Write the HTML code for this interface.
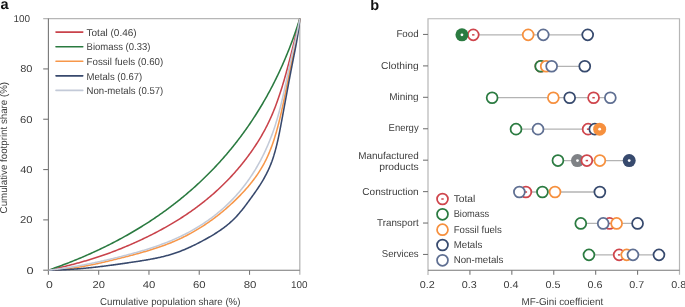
<!DOCTYPE html>
<html><head><meta charset="utf-8"><style>
html,body{margin:0;padding:0;background:#fff;}
body{width:685px;height:307px;overflow:hidden;}
svg{display:block;font-family:"Liberation Sans",sans-serif;text-rendering:geometricPrecision;will-change:transform;}
.t{}
</style></head><body>
<svg width="685" height="307" viewBox="0 0 685 307">
<rect width="685" height="307" fill="#fff"/>
<text x="0.4" y="9.1" font-size="14.5" font-weight="bold" fill="#111">a</text>
<text x="370.3" y="9.85" font-size="14.5" font-weight="bold" fill="#111">b</text>
<path d="M43.20,18.60 H299.80 V274.80" stroke="#b6b6b6" stroke-width="1.3" fill="none"/>
<g stroke="#777777" stroke-width="1.1" fill="none">
<path d="M48.40,18.60 V270.20 H299.80"/>
<path d="M43.20,270.20 H48.40"/>
<path d="M48.40,270.20 V274.80"/>
<path d="M43.20,219.88 H48.40"/>
<path d="M98.68,270.20 V274.80"/>
<path d="M43.20,169.56 H48.40"/>
<path d="M148.96,270.20 V274.80"/>
<path d="M43.20,119.24 H48.40"/>
<path d="M199.24,270.20 V274.80"/>
<path d="M43.20,68.92 H48.40"/>
<path d="M249.52,270.20 V274.80"/>
</g>
<text x="26.55" y="273.65" font-size="10.00" fill="#3d3d3d" textLength="7.10" lengthAdjust="spacingAndGlyphs" class="t">0</text>
<text x="19.95" y="223.33" font-size="10.00" fill="#3d3d3d" textLength="12.45" lengthAdjust="spacingAndGlyphs" class="t">20</text>
<text x="20.15" y="173.01" font-size="10.00" fill="#3d3d3d" textLength="12.40" lengthAdjust="spacingAndGlyphs" class="t">40</text>
<text x="20.05" y="122.69" font-size="10.00" fill="#3d3d3d" textLength="12.50" lengthAdjust="spacingAndGlyphs" class="t">60</text>
<text x="20.15" y="72.37" font-size="10.00" fill="#3d3d3d" textLength="12.25" lengthAdjust="spacingAndGlyphs" class="t">80</text>
<text x="13.45" y="22.05" font-size="10.00" fill="#3d3d3d" textLength="16.60" lengthAdjust="spacingAndGlyphs" class="t">100</text>
<text x="46.05" y="287.80" font-size="10.00" fill="#3d3d3d" textLength="6.80" lengthAdjust="spacingAndGlyphs" class="t">0</text>
<text x="92.55" y="287.80" font-size="10.00" fill="#3d3d3d" textLength="12.40" lengthAdjust="spacingAndGlyphs" class="t">20</text>
<text x="142.75" y="287.80" font-size="10.00" fill="#3d3d3d" textLength="12.60" lengthAdjust="spacingAndGlyphs" class="t">40</text>
<text x="192.95" y="287.80" font-size="10.00" fill="#3d3d3d" textLength="12.60" lengthAdjust="spacingAndGlyphs" class="t">60</text>
<text x="243.70" y="287.80" font-size="10.00" fill="#3d3d3d" textLength="12.75" lengthAdjust="spacingAndGlyphs" class="t">80</text>
<text x="291.05" y="287.80" font-size="10.00" fill="#3d3d3d" textLength="16.50" lengthAdjust="spacingAndGlyphs" class="t">100</text>
<text x="100.05" y="305.20" font-size="10.00" fill="#3d3d3d" textLength="140.40" lengthAdjust="spacingAndGlyphs" class="t">Cumulative population share (%)</text>
<text transform="translate(7.3,213.4) rotate(-90)" font-size="10.00" fill="#3d3d3d" textLength="131.50" lengthAdjust="spacingAndGlyphs">Cumulative footprint share (%)</text>
<path d="M48.40,270.20 L49.23,270.02 L50.05,269.84 L50.88,269.66 L51.71,269.47 L52.53,269.29 L53.35,269.11 L54.18,268.92 L55.00,268.73 L55.82,268.55 L56.64,268.36 L57.46,268.17 L58.27,267.98 L59.09,267.79 L59.91,267.60 L60.72,267.40 L61.53,267.21 L62.35,267.01 L63.16,266.82 L63.97,266.62 L64.78,266.42 L65.59,266.22 L66.40,266.02 L67.20,265.82 L68.01,265.62 L68.81,265.42 L69.62,265.21 L70.42,265.01 L71.22,264.80 L72.02,264.59 L72.82,264.38 L73.62,264.17 L74.41,263.96 L75.21,263.75 L76.00,263.54 L76.80,263.32 L77.59,263.11 L78.38,262.89 L79.17,262.67 L79.96,262.45 L80.75,262.23 L81.53,262.01 L82.32,261.79 L83.10,261.57 L83.88,261.34 L84.67,261.12 L85.45,260.89 L86.22,260.66 L87.00,260.43 L87.78,260.20 L88.55,259.96 L89.33,259.73 L90.10,259.50 L90.87,259.26 L91.64,259.02 L92.41,258.78 L93.18,258.54 L93.94,258.30 L94.71,258.06 L95.47,257.81 L96.23,257.57 L97.76,257.07 L99.27,256.57 L100.78,256.07 L102.28,255.55 L103.78,255.04 L105.27,254.51 L106.76,253.99 L108.24,253.45 L109.72,252.91 L111.19,252.37 L112.66,251.82 L114.12,251.27 L115.58,250.71 L117.03,250.14 L118.47,249.57 L119.92,249.00 L121.35,248.42 L122.78,247.83 L124.21,247.25 L125.63,246.65 L127.05,246.06 L128.47,245.45 L129.87,244.85 L131.28,244.24 L132.68,243.62 L134.07,243.00 L135.47,242.38 L136.85,241.75 L138.24,241.12 L139.62,240.48 L140.99,239.84 L142.36,239.20 L143.73,238.55 L145.09,237.89 L146.45,237.24 L147.81,236.58 L149.16,235.91 L150.51,235.24 L151.85,234.57 L153.18,233.89 L154.52,233.21 L155.85,232.52 L157.17,231.83 L158.49,231.13 L159.81,230.43 L161.12,229.73 L162.42,229.02 L163.72,228.30 L165.02,227.58 L166.31,226.86 L167.60,226.13 L168.88,225.39 L170.15,224.65 L171.43,223.91 L172.69,223.16 L173.95,222.41 L175.21,221.65 L176.46,220.88 L177.71,220.11 L178.95,219.34 L180.18,218.56 L181.41,217.77 L182.64,216.98 L183.86,216.18 L185.07,215.38 L186.28,214.57 L187.48,213.76 L188.68,212.94 L189.87,212.12 L191.06,211.29 L192.24,210.46 L193.42,209.62 L194.59,208.77 L195.75,207.92 L196.91,207.06 L198.07,206.20 L199.22,205.33 L200.36,204.46 L201.50,203.58 L202.63,202.70 L203.75,201.81 L204.87,200.91 L205.99,200.01 L207.10,199.11 L208.20,198.19 L209.30,197.27 L210.39,196.35 L211.48,195.42 L212.56,194.49 L213.63,193.55 L214.70,192.60 L215.77,191.65 L216.82,190.69 L217.88,189.72 L218.92,188.75 L219.96,187.78 L221.00,186.80 L222.02,185.81 L223.05,184.81 L224.06,183.81 L225.07,182.81 L226.08,181.80 L227.08,180.78 L228.07,179.76 L229.06,178.73 L230.04,177.69 L231.01,176.65 L231.98,175.61 L232.95,174.55 L233.90,173.49 L234.85,172.43 L235.80,171.36 L236.74,170.28 L237.67,169.20 L238.60,168.11 L239.52,167.01 L240.43,165.91 L241.34,164.80 L242.24,163.69 L243.14,162.57 L244.03,161.44 L244.91,160.31 L245.79,159.17 L246.66,158.03 L247.53,156.88 L248.39,155.72 L249.24,154.56 L250.09,153.39 L250.93,152.21 L251.76,151.03 L252.59,149.84 L253.41,148.64 L254.22,147.44 L255.03,146.23 L255.83,145.01 L256.62,143.79 L257.40,142.56 L258.18,141.32 L258.95,140.07 L259.71,138.82 L260.47,137.56 L261.22,136.29 L261.96,135.01 L262.69,133.73 L263.41,132.44 L264.13,131.14 L264.83,129.83 L265.53,128.51 L266.22,127.18 L266.90,125.85 L267.57,124.50 L268.24,123.15 L268.89,121.79 L269.54,120.41 L270.17,119.03 L270.80,117.64 L271.42,116.24 L272.02,114.84 L272.62,113.42 L273.21,112.00 L273.80,110.56 L274.37,109.12 L274.94,107.67 L275.50,106.21 L276.05,104.75 L276.60,103.28 L277.13,101.80 L277.66,100.31 L278.19,98.82 L278.70,97.32 L279.21,95.81 L279.72,94.30 L280.22,92.78 L280.46,92.02 L280.71,91.26 L280.95,90.50 L281.20,89.73 L281.44,88.96 L281.68,88.20 L281.92,87.43 L282.15,86.66 L282.39,85.88 L282.63,85.11 L282.86,84.34 L283.09,83.56 L283.32,82.78 L283.55,82.01 L283.78,81.23 L284.01,80.45 L284.24,79.66 L284.46,78.88 L284.69,78.10 L284.91,77.31 L285.14,76.53 L285.36,75.74 L285.58,74.96 L285.80,74.17 L286.02,73.38 L286.24,72.59 L286.45,71.80 L286.67,71.01 L286.88,70.21 L287.10,69.42 L287.31,68.63 L287.53,67.83 L287.74,67.04 L287.95,66.24 L288.16,65.44 L288.38,64.65 L288.59,63.85 L288.79,63.05 L289.00,62.25 L289.21,61.45 L289.42,60.65 L289.63,59.85 L289.83,59.05 L290.04,58.25 L290.25,57.44 L290.45,56.64 L290.66,55.84 L290.86,55.03 L291.07,54.23 L291.27,53.43 L291.47,52.62 L291.68,51.82 L291.88,51.01 L292.08,50.20 L292.28,49.40 L292.49,48.59 L292.69,47.79 L292.89,46.98 L293.09,46.17 L293.29,45.36 L293.49,44.55 L293.69,43.75 L293.89,42.94 L294.09,42.13 L294.29,41.32 L294.49,40.51 L294.68,39.70 L294.88,38.89 L295.08,38.08 L295.28,37.27 L295.48,36.46 L295.67,35.65 L295.87,34.84 L296.07,34.03 L296.27,33.21 L296.46,32.40 L296.66,31.59 L296.86,30.78 L297.05,29.97 L297.25,29.16 L297.45,28.34 L297.64,27.53 L297.84,26.72 L298.03,25.91 L298.23,25.10 L298.43,24.28 L298.62,23.47 L298.82,22.66 L299.02,21.85 L299.21,21.04 L299.41,20.22 L299.60,19.41 L299.80,18.60 L299.80,18.60" fill="none" stroke="#c9434b" stroke-width="1.55" stroke-linejoin="round"/>
<path d="M48.40,270.20 L49.90,269.68 L51.39,269.16 L52.88,268.63 L54.36,268.10 L55.85,267.57 L57.32,267.03 L58.80,266.49 L60.27,265.95 L61.74,265.40 L63.20,264.85 L64.66,264.29 L66.12,263.73 L67.57,263.17 L69.02,262.60 L70.47,262.03 L71.91,261.46 L73.35,260.88 L74.78,260.30 L76.21,259.72 L77.64,259.13 L79.06,258.54 L80.48,257.94 L81.90,257.34 L83.31,256.74 L84.72,256.13 L86.13,255.52 L87.53,254.91 L88.93,254.29 L90.32,253.67 L91.71,253.04 L93.10,252.41 L94.48,251.78 L95.86,251.14 L97.24,250.50 L98.61,249.86 L99.98,249.21 L101.34,248.56 L102.70,247.90 L104.06,247.25 L105.41,246.58 L106.76,245.92 L108.11,245.25 L109.45,244.57 L110.79,243.89 L112.12,243.21 L113.45,242.53 L114.78,241.84 L116.10,241.15 L117.42,240.45 L118.73,239.75 L120.05,239.04 L121.35,238.34 L122.66,237.62 L123.96,236.91 L125.25,236.19 L126.55,235.47 L127.83,234.74 L129.12,234.01 L130.40,233.27 L131.68,232.53 L132.95,231.79 L134.22,231.04 L135.48,230.29 L136.75,229.54 L138.00,228.78 L139.26,228.02 L140.51,227.25 L141.75,226.48 L143.00,225.71 L144.23,224.93 L145.47,224.15 L146.70,223.37 L147.93,222.58 L149.15,221.78 L150.37,220.99 L151.58,220.19 L152.79,219.38 L154.00,218.57 L155.20,217.76 L156.40,216.94 L157.60,216.12 L158.79,215.30 L159.98,214.47 L161.16,213.64 L162.34,212.80 L163.52,211.96 L164.69,211.12 L165.85,210.27 L167.02,209.41 L168.18,208.56 L169.33,207.70 L170.49,206.83 L171.63,205.97 L172.78,205.09 L173.92,204.22 L175.05,203.34 L176.18,202.45 L177.31,201.57 L178.44,200.67 L179.56,199.78 L180.67,198.88 L181.78,197.97 L182.89,197.06 L183.99,196.15 L185.09,195.24 L186.19,194.32 L187.28,193.39 L188.37,192.46 L189.45,191.53 L190.53,190.59 L191.61,189.65 L192.68,188.71 L193.75,187.76 L194.81,186.81 L195.87,185.85 L196.92,184.89 L197.97,183.92 L199.02,182.95 L200.06,181.98 L201.10,181.00 L202.14,180.02 L203.17,179.04 L204.19,178.05 L205.22,177.05 L206.23,176.05 L207.25,175.05 L208.26,174.05 L209.26,173.04 L210.26,172.02 L211.26,171.00 L212.25,169.98 L213.24,168.95 L214.23,167.92 L215.21,166.89 L216.19,165.85 L217.16,164.80 L218.13,163.76 L219.09,162.70 L220.05,161.65 L221.01,160.59 L221.96,159.52 L222.91,158.46 L223.85,157.38 L224.79,156.31 L225.73,155.23 L226.66,154.14 L227.58,153.05 L228.51,151.96 L229.42,150.86 L230.34,149.76 L231.25,148.65 L232.15,147.54 L233.06,146.43 L233.95,145.31 L234.85,144.19 L235.74,143.06 L236.62,141.93 L237.50,140.79 L238.38,139.65 L239.25,138.51 L240.12,137.36 L240.98,136.21 L241.84,135.05 L242.69,133.89 L243.55,132.72 L244.39,131.55 L245.23,130.38 L246.07,129.20 L246.91,128.02 L247.74,126.83 L248.56,125.64 L249.38,124.45 L250.20,123.25 L251.01,122.04 L251.82,120.84 L252.63,119.62 L253.42,118.41 L254.22,117.19 L255.01,115.96 L255.80,114.73 L256.58,113.50 L257.36,112.26 L258.13,111.02 L258.90,109.77 L259.67,108.52 L260.43,107.27 L261.19,106.01 L261.94,104.74 L262.69,103.48 L263.43,102.20 L264.17,100.93 L264.91,99.65 L265.64,98.36 L266.36,97.07 L267.09,95.78 L267.80,94.48 L268.52,93.18 L269.23,91.87 L269.93,90.56 L270.63,89.24 L271.33,87.92 L272.02,86.60 L272.71,85.27 L273.39,83.93 L274.07,82.60 L274.74,81.26 L275.41,79.91 L276.08,78.56 L276.74,77.20 L277.40,75.84 L278.05,74.48 L278.70,73.11 L279.34,71.74 L279.98,70.36 L280.61,68.98 L281.24,67.59 L281.87,66.20 L282.49,64.81 L283.11,63.41 L283.72,62.01 L284.33,60.60 L284.93,59.19 L285.53,57.77 L286.13,56.35 L286.72,54.92 L287.31,53.49 L287.89,52.06 L288.47,50.62 L289.04,49.17 L289.61,47.73 L290.17,46.27 L290.73,44.82 L291.29,43.36 L291.84,41.89 L292.38,40.42 L292.92,38.95 L293.46,37.47 L293.99,35.98 L294.52,34.49 L295.05,33.00 L295.57,31.51 L296.08,30.00 L296.59,28.50 L297.10,26.99 L297.60,25.47 L298.09,23.95 L298.34,23.19 L298.59,22.43 L298.83,21.66 L299.08,20.90 L299.32,20.13 L299.56,19.37 L299.80,18.60 L299.80,18.60" fill="none" stroke="#2a7a40" stroke-width="1.55" stroke-linejoin="round"/>
<path d="M48.40,270.20 L49.37,270.16 L50.33,270.11 L51.29,270.07 L52.25,270.01 L53.20,269.96 L54.15,269.90 L55.09,269.84 L56.03,269.77 L56.97,269.70 L57.91,269.63 L58.84,269.56 L59.77,269.48 L60.69,269.40 L61.62,269.31 L62.54,269.22 L63.45,269.13 L64.37,269.04 L65.28,268.94 L66.18,268.84 L67.09,268.74 L67.99,268.63 L68.89,268.52 L69.79,268.41 L70.68,268.30 L71.57,268.18 L72.46,268.06 L73.34,267.94 L74.23,267.81 L75.11,267.68 L75.99,267.56 L76.86,267.42 L77.73,267.29 L78.61,267.15 L79.47,267.01 L80.34,266.87 L81.20,266.73 L82.07,266.58 L82.93,266.43 L83.78,266.28 L84.64,266.13 L85.49,265.98 L86.34,265.82 L87.19,265.66 L88.04,265.50 L88.89,265.34 L89.73,265.18 L90.57,265.01 L91.41,264.84 L92.25,264.67 L93.09,264.50 L93.92,264.33 L94.76,264.16 L95.59,263.98 L96.42,263.80 L97.25,263.63 L98.08,263.45 L98.90,263.26 L99.73,263.08 L100.55,262.90 L101.38,262.71 L102.20,262.53 L103.02,262.34 L103.84,262.15 L104.66,261.96 L105.47,261.77 L106.29,261.58 L107.11,261.39 L107.92,261.19 L108.73,261.00 L109.55,260.81 L110.36,260.61 L111.17,260.41 L111.98,260.22 L112.79,260.02 L113.60,259.82 L114.41,259.62 L115.21,259.42 L116.02,259.22 L116.83,259.02 L117.64,258.82 L118.44,258.62 L119.25,258.42 L120.05,258.21 L120.86,258.01 L121.67,257.81 L122.47,257.60 L123.27,257.40 L124.08,257.20 L124.88,256.99 L125.68,256.79 L126.49,256.58 L127.29,256.38 L128.09,256.17 L128.89,255.96 L129.69,255.76 L130.49,255.55 L131.29,255.34 L132.09,255.13 L132.88,254.92 L133.68,254.71 L134.47,254.49 L135.27,254.28 L136.06,254.07 L136.86,253.85 L137.65,253.63 L138.44,253.42 L139.23,253.20 L140.02,252.98 L140.80,252.76 L141.59,252.54 L142.37,252.32 L143.16,252.09 L143.94,251.87 L144.72,251.64 L145.50,251.41 L146.28,251.18 L147.06,250.95 L147.84,250.72 L148.61,250.49 L149.38,250.25 L150.15,250.02 L150.92,249.78 L151.69,249.54 L152.46,249.30 L153.23,249.06 L153.99,248.81 L154.75,248.57 L156.27,248.07 L157.78,247.57 L159.29,247.06 L160.78,246.54 L162.27,246.01 L163.75,245.48 L165.23,244.93 L166.69,244.38 L168.14,243.82 L169.59,243.25 L171.03,242.67 L172.45,242.08 L173.87,241.48 L175.28,240.88 L176.68,240.26 L178.07,239.63 L179.45,239.00 L180.82,238.35 L182.18,237.70 L183.54,237.04 L184.88,236.37 L186.22,235.69 L187.55,235.00 L188.87,234.31 L190.18,233.60 L191.48,232.89 L192.77,232.17 L194.06,231.43 L195.34,230.70 L196.61,229.95 L197.87,229.19 L199.12,228.43 L200.36,227.66 L201.60,226.88 L202.83,226.09 L204.05,225.30 L205.26,224.50 L206.47,223.69 L207.67,222.87 L208.86,222.04 L210.04,221.21 L211.22,220.37 L212.38,219.52 L213.54,218.67 L214.70,217.80 L215.84,216.93 L216.98,216.06 L218.12,215.17 L219.24,214.28 L220.36,213.38 L221.47,212.48 L222.57,211.57 L223.67,210.65 L224.76,209.73 L225.85,208.79 L226.93,207.86 L228.00,206.91 L229.06,205.96 L230.12,205.00 L231.17,204.04 L232.22,203.07 L233.26,202.10 L234.30,201.11 L235.32,200.13 L236.35,199.13 L237.36,198.13 L238.37,197.13 L239.37,196.11 L240.37,195.09 L241.36,194.07 L242.34,193.03 L243.32,191.99 L244.28,190.94 L245.24,189.88 L246.19,188.81 L247.13,187.74 L248.06,186.66 L248.99,185.56 L249.90,184.46 L250.80,183.35 L251.70,182.23 L252.58,181.10 L253.46,179.95 L254.32,178.80 L255.17,177.64 L256.01,176.46 L256.85,175.28 L257.66,174.08 L258.47,172.87 L259.27,171.65 L260.05,170.42 L260.82,169.17 L261.58,167.91 L262.32,166.64 L263.05,165.36 L263.77,164.06 L264.48,162.75 L265.17,161.42 L265.84,160.08 L266.50,158.72 L267.15,157.35 L267.78,155.97 L268.40,154.57 L269.01,153.16 L269.60,151.74 L270.18,150.31 L270.75,148.86 L271.31,147.40 L271.85,145.92 L272.38,144.44 L272.91,142.95 L273.42,141.44 L273.92,139.93 L274.16,139.16 L274.41,138.40 L274.65,137.63 L274.89,136.87 L275.13,136.09 L275.36,135.32 L275.59,134.54 L275.82,133.77 L276.05,132.99 L276.28,132.20 L276.50,131.42 L276.72,130.63 L276.94,129.85 L277.16,129.06 L277.38,128.26 L277.59,127.47 L277.81,126.67 L278.02,125.88 L278.23,125.08 L278.43,124.28 L278.64,123.47 L278.84,122.67 L279.04,121.86 L279.24,121.06 L279.44,120.25 L279.64,119.44 L279.84,118.62 L280.03,117.81 L280.23,117.00 L280.42,116.18 L280.61,115.36 L280.80,114.54 L280.99,113.72 L281.18,112.90 L281.36,112.08 L281.55,111.26 L281.73,110.43 L281.91,109.61 L282.10,108.78 L282.28,107.96 L282.46,107.13 L282.64,106.30 L282.81,105.47 L282.99,104.64 L283.17,103.81 L283.34,102.97 L283.52,102.14 L283.69,101.31 L283.87,100.47 L284.04,99.63 L284.21,98.80 L284.38,97.96 L284.55,97.12 L284.72,96.29 L284.89,95.45 L285.06,94.61 L285.23,93.77 L285.40,92.93 L285.57,92.09 L285.74,91.25 L285.91,90.41 L286.07,89.57 L286.24,88.73 L286.41,87.89 L286.57,87.04 L286.74,86.20 L286.91,85.36 L287.07,84.52 L287.24,83.68 L287.41,82.84 L287.57,81.99 L287.74,81.15 L287.90,80.31 L288.07,79.47 L288.24,78.63 L288.41,77.79 L288.57,76.94 L288.74,76.10 L288.91,75.26 L289.08,74.42 L289.24,73.58 L289.41,72.74 L289.58,71.90 L289.75,71.06 L289.92,70.23 L290.09,69.39 L290.26,68.55 L290.43,67.71 L290.61,66.88 L290.78,66.04 L290.95,65.21 L291.13,64.37 L291.30,63.54 L291.48,62.71 L291.65,61.88 L291.83,61.05 L292.01,60.22 L292.19,59.39 L292.37,58.56 L292.55,57.73 L292.73,56.90 L292.91,56.08 L293.09,55.25 L293.28,54.43 L293.46,53.60 L293.64,52.77 L293.83,51.95 L294.01,51.12 L294.19,50.30 L294.37,49.47 L294.55,48.64 L294.74,47.82 L294.92,46.99 L295.10,46.16 L295.27,45.33 L295.45,44.50 L295.63,43.67 L295.80,42.84 L295.98,42.00 L296.15,41.17 L296.32,40.33 L296.49,39.49 L296.66,38.65 L296.83,37.81 L296.99,36.97 L297.15,36.12 L297.31,35.27 L297.47,34.42 L297.63,33.57 L297.78,32.71 L297.93,31.85 L298.08,30.99 L298.22,30.13 L298.36,29.26 L298.50,28.39 L298.64,27.52 L298.77,26.65 L298.90,25.77 L299.03,24.88 L299.15,24.00 L299.27,23.11 L299.38,22.21 L299.49,21.32 L299.60,20.42 L299.70,19.51 L299.80,18.60 L299.80,18.60" fill="none" stroke="#f7974a" stroke-width="1.55" stroke-linejoin="round"/>
<path d="M48.40,270.20 L49.40,270.19 L50.39,270.17 L51.38,270.16 L52.37,270.14 L53.35,270.11 L54.34,270.09 L55.32,270.06 L56.30,270.04 L57.27,270.00 L58.25,269.97 L59.22,269.94 L60.19,269.90 L61.16,269.86 L62.12,269.82 L63.09,269.77 L64.05,269.73 L65.01,269.68 L65.97,269.63 L66.92,269.58 L67.88,269.52 L68.83,269.47 L69.78,269.41 L70.73,269.35 L71.67,269.29 L72.62,269.22 L73.56,269.16 L74.50,269.09 L75.44,269.02 L76.37,268.95 L77.31,268.88 L78.24,268.81 L79.18,268.73 L80.11,268.65 L81.04,268.58 L81.96,268.49 L82.89,268.41 L83.81,268.33 L84.73,268.24 L85.66,268.16 L86.58,268.07 L87.49,267.98 L88.41,267.89 L89.33,267.80 L90.24,267.70 L91.15,267.61 L92.06,267.51 L92.97,267.41 L93.88,267.32 L94.79,267.21 L95.70,267.11 L96.60,267.01 L97.51,266.91 L98.41,266.80 L99.31,266.70 L100.21,266.59 L101.11,266.48 L102.01,266.37 L102.91,266.26 L103.80,266.15 L104.70,266.04 L105.59,265.93 L106.49,265.81 L107.38,265.70 L108.27,265.58 L109.16,265.46 L110.05,265.35 L110.94,265.23 L111.83,265.11 L112.72,264.99 L113.61,264.87 L114.49,264.75 L115.38,264.63 L116.26,264.50 L117.15,264.38 L118.03,264.26 L118.91,264.13 L119.80,264.01 L120.68,263.88 L121.56,263.75 L122.44,263.63 L123.32,263.50 L124.20,263.37 L125.08,263.25 L125.96,263.12 L126.84,262.99 L127.72,262.86 L128.60,262.73 L129.48,262.60 L130.36,262.47 L131.24,262.34 L132.11,262.21 L132.99,262.08 L133.87,261.95 L134.74,261.82 L135.62,261.69 L136.49,261.56 L137.37,261.42 L138.24,261.29 L139.11,261.15 L139.98,261.02 L140.85,260.88 L141.72,260.74 L142.59,260.60 L143.46,260.46 L144.32,260.31 L145.19,260.17 L146.05,260.02 L146.91,259.88 L147.77,259.73 L148.62,259.58 L149.48,259.42 L150.33,259.27 L151.18,259.11 L152.03,258.95 L152.87,258.79 L153.72,258.62 L154.56,258.46 L155.40,258.29 L156.23,258.12 L157.07,257.94 L157.90,257.77 L158.73,257.59 L159.55,257.40 L160.37,257.22 L161.19,257.03 L162.01,256.84 L162.82,256.64 L163.63,256.44 L164.44,256.24 L165.24,256.04 L166.04,255.83 L166.83,255.62 L167.62,255.40 L168.41,255.18 L169.20,254.96 L169.98,254.73 L170.75,254.50 L171.53,254.26 L172.29,254.02 L173.06,253.78 L174.58,253.28 L176.08,252.77 L177.57,252.24 L179.04,251.70 L180.50,251.15 L181.95,250.58 L183.39,250.00 L184.82,249.41 L186.23,248.81 L187.63,248.20 L189.02,247.57 L190.41,246.94 L191.78,246.30 L193.14,245.65 L194.50,244.99 L195.85,244.32 L197.19,243.64 L198.52,242.96 L199.85,242.27 L201.17,241.57 L202.48,240.87 L203.79,240.17 L205.10,239.46 L206.39,238.74 L207.69,238.01 L208.97,237.28 L210.25,236.55 L211.52,235.80 L212.78,235.05 L214.04,234.29 L215.28,233.51 L216.52,232.73 L217.74,231.94 L218.95,231.14 L220.15,230.32 L221.34,229.50 L222.52,228.66 L223.69,227.81 L224.84,226.94 L225.97,226.06 L227.10,225.17 L228.20,224.26 L229.30,223.34 L230.37,222.40 L231.43,221.44 L232.48,220.47 L233.50,219.48 L234.51,218.47 L235.50,217.45 L236.48,216.41 L237.44,215.36 L238.39,214.29 L239.33,213.21 L240.25,212.12 L241.17,211.02 L242.07,209.90 L242.97,208.78 L243.85,207.65 L244.73,206.52 L245.60,205.37 L246.47,204.22 L247.33,203.07 L248.19,201.91 L249.04,200.74 L249.89,199.58 L250.74,198.41 L251.59,197.24 L252.43,196.07 L253.28,194.90 L254.11,193.72 L254.94,192.54 L255.77,191.35 L256.59,190.15 L257.41,188.95 L258.22,187.74 L259.02,186.53 L259.81,185.30 L260.59,184.07 L261.36,182.83 L262.13,181.57 L262.88,180.31 L263.62,179.03 L264.35,177.75 L265.07,176.45 L265.77,175.14 L266.46,173.81 L267.14,172.47 L267.80,171.12 L268.45,169.75 L269.08,168.36 L269.69,166.96 L270.29,165.53 L270.86,164.10 L271.42,162.64 L271.97,161.17 L272.49,159.67 L273.00,158.17 L273.49,156.65 L273.74,155.88 L273.97,155.11 L274.21,154.33 L274.44,153.56 L274.67,152.78 L274.89,151.99 L275.11,151.20 L275.33,150.41 L275.54,149.62 L275.75,148.82 L275.96,148.02 L276.17,147.22 L276.37,146.42 L276.57,145.61 L276.77,144.80 L276.97,143.98 L277.16,143.17 L277.35,142.35 L277.54,141.53 L277.72,140.71 L277.91,139.89 L278.09,139.06 L278.27,138.23 L278.45,137.40 L278.62,136.57 L278.80,135.74 L278.97,134.90 L279.14,134.06 L279.31,133.23 L279.48,132.39 L279.65,131.54 L279.82,130.70 L279.98,129.86 L280.15,129.02 L280.31,128.17 L280.47,127.32 L280.63,126.48 L280.79,125.63 L280.95,124.78 L281.11,123.93 L281.27,123.08 L281.43,122.23 L281.59,121.38 L281.75,120.53 L281.90,119.68 L282.06,118.83 L282.22,117.98 L282.38,117.13 L282.53,116.28 L282.69,115.43 L282.85,114.58 L283.01,113.73 L283.16,112.87 L283.32,112.02 L283.48,111.17 L283.63,110.32 L283.79,109.47 L283.95,108.62 L284.10,107.77 L284.26,106.91 L284.42,106.06 L284.57,105.21 L284.73,104.36 L284.89,103.51 L285.04,102.66 L285.20,101.80 L285.36,100.95 L285.51,100.10 L285.67,99.25 L285.83,98.40 L285.98,97.55 L286.14,96.70 L286.30,95.84 L286.46,94.99 L286.61,94.14 L286.77,93.29 L286.93,92.44 L287.08,91.59 L287.24,90.74 L287.40,89.89 L287.56,89.04 L287.72,88.19 L287.87,87.34 L288.03,86.49 L288.19,85.64 L288.35,84.79 L288.51,83.94 L288.67,83.09 L288.82,82.24 L288.98,81.39 L289.14,80.54 L289.30,79.69 L289.46,78.84 L289.62,78.00 L289.78,77.15 L289.94,76.30 L290.10,75.45 L290.27,74.60 L290.43,73.76 L290.59,72.91 L290.75,72.06 L290.91,71.22 L291.07,70.37 L291.24,69.53 L291.40,68.68 L291.56,67.84 L291.73,66.99 L291.89,66.15 L292.05,65.30 L292.22,64.46 L292.38,63.61 L292.55,62.77 L292.71,61.93 L292.88,61.08 L293.04,60.24 L293.21,59.40 L293.38,58.56 L293.54,57.72 L293.71,56.88 L293.88,56.04 L294.04,55.19 L294.21,54.35 L294.38,53.51 L294.54,52.67 L294.71,51.83 L294.88,50.98 L295.04,50.14 L295.20,49.29 L295.37,48.45 L295.53,47.60 L295.69,46.76 L295.85,45.91 L296.01,45.06 L296.17,44.21 L296.32,43.36 L296.48,42.50 L296.63,41.65 L296.78,40.79 L296.93,39.93 L297.08,39.07 L297.23,38.21 L297.37,37.35 L297.52,36.48 L297.66,35.62 L297.80,34.75 L297.93,33.87 L298.06,33.00 L298.20,32.12 L298.32,31.24 L298.45,30.36 L298.57,29.47 L298.69,28.58 L298.81,27.69 L298.92,26.80 L299.04,25.90 L299.14,25.00 L299.25,24.10 L299.35,23.19 L299.45,22.28 L299.54,21.37 L299.63,20.45 L299.72,19.53 L299.80,18.60 L299.80,18.60" fill="none" stroke="#38496d" stroke-width="1.55" stroke-linejoin="round"/>
<path d="M48.40,270.20 L49.31,270.10 L50.21,270.00 L51.11,269.89 L52.02,269.78 L52.92,269.68 L53.81,269.57 L54.71,269.46 L55.60,269.34 L56.50,269.23 L57.39,269.11 L58.28,268.99 L59.17,268.87 L60.05,268.75 L60.94,268.63 L61.82,268.50 L62.70,268.38 L63.58,268.25 L64.46,268.12 L65.34,267.99 L66.21,267.86 L67.09,267.72 L67.96,267.59 L68.83,267.45 L69.70,267.31 L70.57,267.17 L71.43,267.03 L72.30,266.89 L73.16,266.74 L74.02,266.60 L74.88,266.45 L75.74,266.30 L76.60,266.15 L77.46,266.00 L78.31,265.85 L79.17,265.70 L80.02,265.54 L80.87,265.39 L81.72,265.23 L82.57,265.07 L83.42,264.91 L84.27,264.75 L85.11,264.59 L85.96,264.42 L86.80,264.26 L87.64,264.09 L88.48,263.93 L89.32,263.76 L90.16,263.59 L91.00,263.42 L91.83,263.24 L92.67,263.07 L93.50,262.90 L94.33,262.72 L95.16,262.55 L95.99,262.37 L96.82,262.19 L97.65,262.01 L98.48,261.83 L99.31,261.65 L100.13,261.47 L100.96,261.29 L101.78,261.10 L102.60,260.92 L103.43,260.73 L104.25,260.54 L105.07,260.36 L105.89,260.17 L106.70,259.98 L107.52,259.79 L108.34,259.60 L109.15,259.40 L109.97,259.21 L110.78,259.02 L111.60,258.82 L112.41,258.63 L113.22,258.43 L114.03,258.24 L114.84,258.04 L115.65,257.84 L116.46,257.64 L117.27,257.44 L118.08,257.24 L118.88,257.04 L119.69,256.84 L120.49,256.64 L121.30,256.43 L122.10,256.23 L122.91,256.03 L123.71,255.82 L124.51,255.61 L125.31,255.41 L126.11,255.20 L126.91,254.99 L127.71,254.78 L128.51,254.57 L129.30,254.36 L130.10,254.15 L130.89,253.94 L131.69,253.72 L132.48,253.51 L133.27,253.29 L134.06,253.07 L134.85,252.85 L135.64,252.64 L136.43,252.41 L137.21,252.19 L138.00,251.97 L138.78,251.75 L139.57,251.52 L140.35,251.29 L141.13,251.07 L141.91,250.84 L142.68,250.61 L143.46,250.37 L144.23,250.14 L145.01,249.91 L145.78,249.67 L146.55,249.43 L147.32,249.19 L148.08,248.95 L148.85,248.71 L149.61,248.47 L150.38,248.22 L151.14,247.98 L152.65,247.48 L154.16,246.97 L155.67,246.46 L157.17,245.94 L158.66,245.42 L160.14,244.88 L161.61,244.34 L163.08,243.80 L164.54,243.24 L166.00,242.68 L167.44,242.11 L168.88,241.53 L170.31,240.94 L171.73,240.35 L173.14,239.74 L174.55,239.13 L175.94,238.51 L177.33,237.89 L178.71,237.25 L180.08,236.60 L181.44,235.95 L182.80,235.29 L184.14,234.62 L185.48,233.94 L186.81,233.26 L188.13,232.56 L189.44,231.86 L190.75,231.15 L192.04,230.43 L193.33,229.70 L194.61,228.96 L195.88,228.22 L197.14,227.46 L198.40,226.70 L199.64,225.93 L200.88,225.15 L202.11,224.36 L203.33,223.57 L204.54,222.76 L205.74,221.95 L206.94,221.13 L208.12,220.30 L209.30,219.46 L210.47,218.61 L211.63,217.76 L212.78,216.90 L213.93,216.02 L215.06,215.14 L216.19,214.25 L217.30,213.35 L218.41,212.45 L219.51,211.53 L220.60,210.61 L221.69,209.67 L222.76,208.73 L223.83,207.78 L224.89,206.82 L225.93,205.85 L226.97,204.88 L228.00,203.89 L229.03,202.90 L230.04,201.90 L231.05,200.89 L232.04,199.87 L233.03,198.84 L234.01,197.80 L234.98,196.75 L235.94,195.70 L236.89,194.64 L237.84,193.56 L238.77,192.48 L239.70,191.39 L240.61,190.29 L241.52,189.19 L242.42,188.07 L243.31,186.95 L244.20,185.81 L245.07,184.67 L245.94,183.52 L246.79,182.36 L247.64,181.19 L248.48,180.02 L249.31,178.83 L250.13,177.64 L250.95,176.43 L251.75,175.22 L252.55,174.00 L253.33,172.77 L254.11,171.54 L254.88,170.29 L255.65,169.03 L256.40,167.77 L257.14,166.50 L257.88,165.22 L258.61,163.93 L259.32,162.63 L260.03,161.33 L260.74,160.01 L261.43,158.69 L262.11,157.36 L262.79,156.02 L263.46,154.67 L264.12,153.31 L264.77,151.94 L265.41,150.57 L266.04,149.19 L266.67,147.80 L267.28,146.40 L267.89,144.99 L268.49,143.57 L269.08,142.15 L269.66,140.71 L270.24,139.27 L270.81,137.82 L271.36,136.36 L271.91,134.89 L272.45,133.42 L272.98,131.93 L273.51,130.44 L274.02,128.94 L274.53,127.43 L275.03,125.91 L275.28,125.15 L275.52,124.39 L275.76,123.62 L276.00,122.85 L276.24,122.08 L276.47,121.31 L276.71,120.53 L276.94,119.76 L277.17,118.98 L277.40,118.20 L277.62,117.41 L277.85,116.63 L278.07,115.84 L278.29,115.05 L278.51,114.26 L278.72,113.47 L278.94,112.68 L279.15,111.88 L279.36,111.09 L279.57,110.29 L279.78,109.49 L279.98,108.68 L280.19,107.88 L280.39,107.08 L280.59,106.27 L280.79,105.46 L280.99,104.65 L281.19,103.84 L281.39,103.03 L281.58,102.22 L281.78,101.40 L281.97,100.59 L282.16,99.77 L282.35,98.95 L282.54,98.13 L282.73,97.31 L282.92,96.49 L283.10,95.67 L283.29,94.85 L283.47,94.03 L283.66,93.20 L283.84,92.38 L284.02,91.55 L284.21,90.73 L284.39,89.90 L284.57,89.07 L284.75,88.24 L284.93,87.41 L285.11,86.58 L285.28,85.75 L285.46,84.92 L285.64,84.09 L285.82,83.26 L285.99,82.43 L286.17,81.60 L286.35,80.77 L286.52,79.94 L286.70,79.11 L286.88,78.27 L287.05,77.44 L287.23,76.61 L287.41,75.78 L287.58,74.94 L287.76,74.11 L287.93,73.28 L288.11,72.45 L288.29,71.62 L288.47,70.79 L288.64,69.96 L288.82,69.12 L289.00,68.29 L289.18,67.46 L289.36,66.64 L289.53,65.81 L289.71,64.98 L289.90,64.15 L290.08,63.32 L290.26,62.50 L290.44,61.67 L290.62,60.85 L290.81,60.02 L290.99,59.20 L291.18,58.37 L291.36,57.55 L291.55,56.73 L291.74,55.91 L291.92,55.09 L292.11,54.27 L292.30,53.45 L292.49,52.63 L292.68,51.81 L292.87,50.99 L293.06,50.17 L293.25,49.35 L293.44,48.54 L293.63,47.72 L293.82,46.90 L294.01,46.08 L294.20,45.26 L294.39,44.44 L294.57,43.62 L294.76,42.80 L294.95,41.98 L295.14,41.16 L295.32,40.34 L295.51,39.52 L295.70,38.70 L295.88,37.87 L296.07,37.05 L296.25,36.22 L296.43,35.40 L296.61,34.57 L296.79,33.74 L296.97,32.91 L297.15,32.08 L297.33,31.25 L297.50,30.42 L297.68,29.59 L297.85,28.75 L298.02,27.91 L298.19,27.08 L298.36,26.24 L298.53,25.40 L298.69,24.55 L298.86,23.71 L299.02,22.86 L299.18,22.01 L299.34,21.16 L299.49,20.31 L299.65,19.46 L299.80,18.60 L299.80,18.60" fill="none" stroke="#c3cad8" stroke-width="1.55" stroke-linejoin="round"/>
<path d="M56.0,32.10 H82.8" stroke="#c9434b" stroke-width="1.6" stroke-linecap="round"/>
<text x="86.55" y="35.90" font-size="10.00" fill="#3d3d3d" textLength="50.10" lengthAdjust="spacingAndGlyphs" class="t">Total (0.46)</text>
<path d="M56.0,46.68 H82.8" stroke="#2a7a40" stroke-width="1.6" stroke-linecap="round"/>
<text x="86.55" y="50.48" font-size="10.00" fill="#3d3d3d" textLength="63.90" lengthAdjust="spacingAndGlyphs" class="t">Biomass (0.33)</text>
<path d="M56.0,61.26 H82.8" stroke="#f7974a" stroke-width="1.6" stroke-linecap="round"/>
<text x="86.55" y="65.06" font-size="10.00" fill="#3d3d3d" textLength="76.70" lengthAdjust="spacingAndGlyphs" class="t">Fossil fuels (0.60)</text>
<path d="M56.0,75.84 H82.8" stroke="#38496d" stroke-width="1.6" stroke-linecap="round"/>
<text x="86.55" y="79.64" font-size="10.00" fill="#3d3d3d" textLength="55.70" lengthAdjust="spacingAndGlyphs" class="t">Metals (0.67)</text>
<path d="M56.0,90.42 H82.8" stroke="#c3cad8" stroke-width="1.6" stroke-linecap="round"/>
<text x="86.55" y="94.22" font-size="10.00" fill="#3d3d3d" textLength="76.70" lengthAdjust="spacingAndGlyphs" class="t">Non-metals (0.57)</text>
<path d="M428.00,274.90 V18.75 H679.50 V274.70" stroke="#b6b6b6" stroke-width="1.2" fill="none"/>
<g stroke="#777777" stroke-width="1.1" fill="none">
<path d="M428.00,270.30 H679.50"/>
<path d="M423.00,34.46 H428.00"/>
<path d="M423.00,65.89 H428.00"/>
<path d="M423.00,97.32 H428.00"/>
<path d="M423.00,128.75 H428.00"/>
<path d="M423.00,160.18 H428.00"/>
<path d="M423.00,191.61 H428.00"/>
<path d="M423.00,223.04 H428.00"/>
<path d="M423.00,254.47 H428.00"/>
<path d="M469.92,270.30 V274.70"/>
<path d="M511.83,270.30 V274.70"/>
<path d="M553.75,270.30 V274.70"/>
<path d="M595.67,270.30 V274.70"/>
<path d="M637.58,270.30 V274.70"/>
</g>
<text x="419.80" y="287.70" font-size="10.00" fill="#3d3d3d" textLength="15.00" lengthAdjust="spacingAndGlyphs" class="t">0.2</text>
<text x="461.72" y="287.70" font-size="10.00" fill="#3d3d3d" textLength="15.00" lengthAdjust="spacingAndGlyphs" class="t">0.3</text>
<text x="503.63" y="287.70" font-size="10.00" fill="#3d3d3d" textLength="15.00" lengthAdjust="spacingAndGlyphs" class="t">0.4</text>
<text x="545.55" y="287.70" font-size="10.00" fill="#3d3d3d" textLength="15.00" lengthAdjust="spacingAndGlyphs" class="t">0.5</text>
<text x="587.47" y="287.70" font-size="10.00" fill="#3d3d3d" textLength="15.00" lengthAdjust="spacingAndGlyphs" class="t">0.6</text>
<text x="629.38" y="287.70" font-size="10.00" fill="#3d3d3d" textLength="15.00" lengthAdjust="spacingAndGlyphs" class="t">0.7</text>
<text x="671.30" y="287.70" font-size="10.00" fill="#3d3d3d" textLength="15.00" lengthAdjust="spacingAndGlyphs" class="t">0.8</text>
<text x="521.45" y="305.20" font-size="10.00" fill="#3d3d3d" textLength="81.80" lengthAdjust="spacingAndGlyphs" class="t">MF-Gini coefficient</text>
<text x="396.40" y="36.80" font-size="10.00" fill="#3d3d3d" textLength="22.25" lengthAdjust="spacingAndGlyphs" class="t">Food</text>
<text x="381.05" y="68.50" font-size="10.00" fill="#3d3d3d" textLength="37.60" lengthAdjust="spacingAndGlyphs" class="t">Clothing</text>
<text x="389.30" y="99.90" font-size="10.00" fill="#3d3d3d" textLength="29.35" lengthAdjust="spacingAndGlyphs" class="t">Mining</text>
<text x="388.55" y="130.80" font-size="10.00" fill="#3d3d3d" textLength="30.10" lengthAdjust="spacingAndGlyphs" class="t">Energy</text>
<text x="362.35" y="195.40" font-size="10.00" fill="#3d3d3d" textLength="56.30" lengthAdjust="spacingAndGlyphs" class="t">Construction</text>
<text x="377.05" y="225.60" font-size="10.00" fill="#3d3d3d" textLength="41.60" lengthAdjust="spacingAndGlyphs" class="t">Transport</text>
<text x="381.80" y="256.60" font-size="10.00" fill="#3d3d3d" textLength="36.85" lengthAdjust="spacingAndGlyphs" class="t">Services</text>
<text x="358.25" y="158.70" font-size="10.00" fill="#3d3d3d" textLength="60.50" lengthAdjust="spacingAndGlyphs" class="t">Manufactured</text>
<text x="379.15" y="170.10" font-size="10.00" fill="#3d3d3d" textLength="39.60" lengthAdjust="spacingAndGlyphs" class="t">products</text>
<path d="M461.95,34.86 H587.70" stroke="#b3b3b3" stroke-width="1.3"/>
<circle cx="473.27" cy="34.86" r="5.45" fill="#fff" stroke="#cf454c" stroke-width="1.75"/><rect x="472.07" y="34.11" width="2.4" height="1.5" fill="#cf454c"/>
<circle cx="528.18" cy="34.86" r="5.45" fill="#fff" stroke="#f6903e" stroke-width="1.75"/>
<circle cx="543.27" cy="34.86" r="5.45" fill="#fff" stroke="#5f6f92" stroke-width="1.75"/>
<circle cx="587.70" cy="34.86" r="5.45" fill="#fff" stroke="#374a6e" stroke-width="1.75"/>
<circle cx="461.95" cy="34.86" r="6.5" fill="#2b7b41"/><circle cx="461.95" cy="34.86" r="1.4" fill="#fff"/>
<path d="M540.76,66.29 H584.77" stroke="#b3b3b3" stroke-width="1.3"/>
<circle cx="540.76" cy="66.29" r="5.45" fill="#fff" stroke="#cf454c" stroke-width="1.75"/><rect x="539.56" y="65.54" width="2.4" height="1.5" fill="#cf454c"/>
<circle cx="540.76" cy="66.29" r="5.45" fill="#fff" stroke="#2b7b41" stroke-width="1.75"/>
<circle cx="546.20" cy="66.29" r="5.45" fill="#fff" stroke="#f6903e" stroke-width="1.75"/>
<circle cx="551.65" cy="66.29" r="5.45" fill="#fff" stroke="#5f6f92" stroke-width="1.75"/>
<circle cx="584.77" cy="66.29" r="5.45" fill="#fff" stroke="#374a6e" stroke-width="1.75"/>
<path d="M492.13,97.72 H610.34" stroke="#b3b3b3" stroke-width="1.3"/>
<circle cx="492.13" cy="97.72" r="5.45" fill="#fff" stroke="#2b7b41" stroke-width="1.75"/>
<circle cx="553.33" cy="97.72" r="5.45" fill="#fff" stroke="#f6903e" stroke-width="1.75"/>
<circle cx="569.68" cy="97.72" r="5.45" fill="#fff" stroke="#374a6e" stroke-width="1.75"/>
<circle cx="593.57" cy="97.72" r="5.45" fill="#fff" stroke="#cf454c" stroke-width="1.75"/><rect x="592.37" y="96.97" width="2.4" height="1.5" fill="#cf454c"/>
<circle cx="610.34" cy="97.72" r="5.45" fill="#fff" stroke="#5f6f92" stroke-width="1.75"/>
<path d="M516.02,129.15 H599.65" stroke="#b3b3b3" stroke-width="1.3"/>
<circle cx="516.02" cy="129.15" r="5.45" fill="#fff" stroke="#2b7b41" stroke-width="1.75"/>
<circle cx="538.03" cy="129.15" r="5.45" fill="#fff" stroke="#5f6f92" stroke-width="1.75"/>
<circle cx="588.12" cy="129.15" r="5.45" fill="#fff" stroke="#cf454c" stroke-width="1.75"/><rect x="586.92" y="128.40" width="2.4" height="1.5" fill="#cf454c"/>
<circle cx="594.83" cy="129.15" r="5.45" fill="#fff" stroke="#374a6e" stroke-width="1.75"/>
<circle cx="599.65" cy="129.15" r="6.5" fill="#f6903e"/><circle cx="599.65" cy="129.15" r="1.4" fill="#fff"/>
<path d="M557.94,160.58 H629.20" stroke="#b3b3b3" stroke-width="1.3"/>
<circle cx="557.94" cy="160.58" r="5.45" fill="#fff" stroke="#2b7b41" stroke-width="1.75"/>
<circle cx="577.47" cy="160.58" r="6.5" fill="#7f8286"/><circle cx="577.47" cy="160.58" r="1.4" fill="#fff"/>
<circle cx="586.86" cy="160.58" r="5.45" fill="#fff" stroke="#cf454c" stroke-width="1.75"/><rect x="585.66" y="159.83" width="2.4" height="1.5" fill="#cf454c"/>
<circle cx="599.86" cy="160.58" r="5.45" fill="#fff" stroke="#f6903e" stroke-width="1.75"/>
<circle cx="629.20" cy="160.58" r="6.5" fill="#374a6e"/><circle cx="629.20" cy="160.58" r="1.4" fill="#fff"/>
<path d="M519.38,192.01 H599.86" stroke="#b3b3b3" stroke-width="1.3"/>
<circle cx="525.88" cy="192.01" r="5.45" fill="#fff" stroke="#cf454c" stroke-width="1.75"/><rect x="524.68" y="191.26" width="2.4" height="1.5" fill="#cf454c"/>
<circle cx="519.38" cy="192.01" r="5.45" fill="#fff" stroke="#5f6f92" stroke-width="1.75"/>
<circle cx="542.43" cy="192.01" r="5.45" fill="#fff" stroke="#2b7b41" stroke-width="1.75"/>
<circle cx="555.01" cy="192.01" r="5.45" fill="#fff" stroke="#f6903e" stroke-width="1.75"/>
<circle cx="599.86" cy="192.01" r="5.45" fill="#fff" stroke="#374a6e" stroke-width="1.75"/>
<path d="M580.79,223.44 H637.58" stroke="#b3b3b3" stroke-width="1.3"/>
<circle cx="580.79" cy="223.44" r="5.45" fill="#fff" stroke="#2b7b41" stroke-width="1.75"/>
<circle cx="609.50" cy="223.44" r="5.45" fill="#fff" stroke="#cf454c" stroke-width="1.75"/><rect x="608.30" y="222.69" width="2.4" height="1.5" fill="#cf454c"/>
<circle cx="603.21" cy="223.44" r="5.45" fill="#fff" stroke="#5f6f92" stroke-width="1.75"/>
<circle cx="616.62" cy="223.44" r="5.45" fill="#fff" stroke="#f6903e" stroke-width="1.75"/>
<circle cx="637.58" cy="223.44" r="5.45" fill="#fff" stroke="#374a6e" stroke-width="1.75"/>
<path d="M588.96,254.87 H658.96" stroke="#b3b3b3" stroke-width="1.3"/>
<circle cx="588.96" cy="254.87" r="5.45" fill="#fff" stroke="#2b7b41" stroke-width="1.75"/>
<circle cx="619.14" cy="254.87" r="5.45" fill="#fff" stroke="#cf454c" stroke-width="1.75"/><rect x="617.94" y="254.12" width="2.4" height="1.5" fill="#cf454c"/>
<circle cx="626.69" cy="254.87" r="5.45" fill="#fff" stroke="#f6903e" stroke-width="1.75"/>
<circle cx="632.97" cy="254.87" r="5.45" fill="#fff" stroke="#5f6f92" stroke-width="1.75"/>
<circle cx="658.96" cy="254.87" r="5.45" fill="#fff" stroke="#374a6e" stroke-width="1.75"/>
<circle cx="442.50" cy="199.00" r="5.45" fill="#fff" stroke="#cf454c" stroke-width="1.75"/><rect x="441.30" y="198.25" width="2.4" height="1.5" fill="#cf454c"/>
<text x="453.65" y="201.80" font-size="10.00" fill="#3d3d3d" textLength="21.70" lengthAdjust="spacingAndGlyphs" class="t">Total</text>
<circle cx="442.50" cy="214.33" r="5.45" fill="#fff" stroke="#2b7b41" stroke-width="1.75"/>
<text x="453.65" y="217.17" font-size="10.00" fill="#3d3d3d" textLength="35.60" lengthAdjust="spacingAndGlyphs" class="t">Biomass</text>
<circle cx="442.50" cy="229.66" r="5.45" fill="#fff" stroke="#f6903e" stroke-width="1.75"/>
<text x="453.65" y="232.54" font-size="10.00" fill="#3d3d3d" textLength="48.15" lengthAdjust="spacingAndGlyphs" class="t">Fossil fuels</text>
<circle cx="442.50" cy="244.99" r="5.45" fill="#fff" stroke="#374a6e" stroke-width="1.75"/>
<text x="453.65" y="247.91" font-size="10.00" fill="#3d3d3d" textLength="28.60" lengthAdjust="spacingAndGlyphs" class="t">Metals</text>
<circle cx="442.50" cy="260.32" r="5.45" fill="#fff" stroke="#5f6f92" stroke-width="1.75"/>
<text x="453.65" y="263.28" font-size="10.00" fill="#3d3d3d" textLength="49.70" lengthAdjust="spacingAndGlyphs" class="t">Non-metals</text>
</svg>
</body></html>
